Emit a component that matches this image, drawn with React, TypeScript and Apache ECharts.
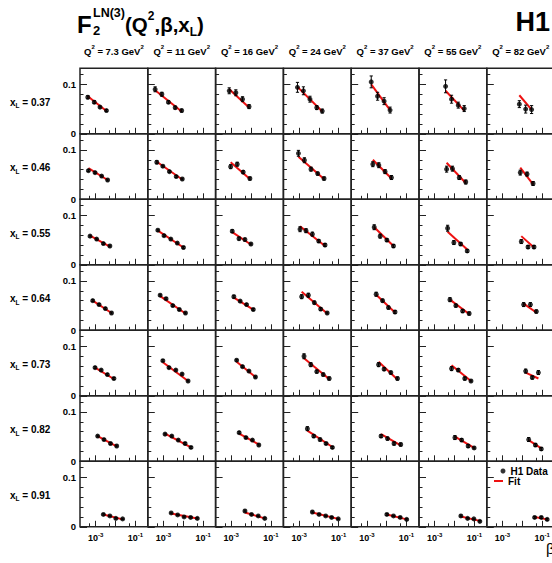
import React, { useEffect, useRef } from 'react';
import * as echarts from 'echarts';

// Bin labels
const Q2_BINS = ['7.3', '11', '16', '24', '37', '55', '82'];
const XL_BINS = ['0.37', '0.46', '0.55', '0.64', '0.73', '0.82', '0.91'];

// Each row is one x_L bin; each inner list is one Q² bin (left to right).
// beta: β of the measured points, f2: F2^LN(3), err: total uncertainty, fit: fit value at first/last β.

// x_L = 0.37
const beta_xl037 = [
  [0.0004, 0.00085, 0.00166, 0.0035],
  [0.00038, 0.00083, 0.00178, 0.0039, 0.0083],
  [0.00079, 0.0017, 0.0037, 0.0079],
  [0.00083, 0.00166, 0.00355, 0.0078, 0.0148],
  [0.00166, 0.00347, 0.0074, 0.0148],
  [0.00355, 0.0071, 0.0155, 0.031],
  [0.0071, 0.0148, 0.0295],
];
const f2_xl037 = [
  [0.074, 0.064, 0.054, 0.047],
  [0.09, 0.08, 0.064, 0.053, 0.047],
  [0.087, 0.083, 0.07, 0.055],
  [0.094, 0.087, 0.07, 0.053, 0.046],
  [0.105, 0.076, 0.066, 0.048],
  [0.096, 0.07, 0.058, 0.051],
  [0.06, 0.05, 0.049],
];
const err_xl037 = [
  [0.003, 0.003, 0.002, 0.002],
  [0.005, 0.004, 0.003, 0.003, 0.003],
  [0.006, 0.006, 0.005, 0.004],
  [0.01, 0.008, 0.006, 0.004, 0.004],
  [0.012, 0.008, 0.007, 0.006],
  [0.013, 0.008, 0.006, 0.006],
  [0.007, 0.008, 0.008],
];
const fit_xl037 = [
  [0.076, 0.046], [0.088, 0.045], [0.09, 0.053], [0.095, 0.045], [0.1, 0.048], [0.087, 0.047], [0.078, 0.049],
];

// x_L = 0.46
const beta_xl046 = [
  [0.00043, 0.00093, 0.002, 0.004],
  [0.00046, 0.00093, 0.002, 0.0044, 0.0089],
  [0.00093, 0.002, 0.004, 0.0087],
  [0.00093, 0.00186, 0.004, 0.0087, 0.0182],
  [0.002, 0.004, 0.0083, 0.0174],
  [0.004, 0.0079, 0.0174, 0.037],
  [0.0079, 0.0174, 0.035],
];
const f2_xl046 = [
  [0.058, 0.054, 0.047, 0.039],
  [0.075, 0.067, 0.056, 0.046, 0.041],
  [0.066, 0.071, 0.055, 0.042],
  [0.093, 0.079, 0.061, 0.052, 0.042],
  [0.071, 0.069, 0.056, 0.044],
  [0.061, 0.062, 0.044, 0.035],
  [0.054, 0.051, 0.032],
];
const err_xl046 = [
  [0.002, 0.002, 0.002, 0.002],
  [0.003, 0.002, 0.002, 0.002, 0.002],
  [0.004, 0.004, 0.003, 0.003],
  [0.006, 0.005, 0.004, 0.003, 0.003],
  [0.005, 0.005, 0.004, 0.004],
  [0.006, 0.005, 0.004, 0.004],
  [0.005, 0.004, 0.004],
];
const fit_xl046 = [
  [0.063, 0.039], [0.076, 0.04], [0.075, 0.041], [0.086, 0.041], [0.08, 0.042], [0.074, 0.033], [0.064, 0.03],
];

// x_L = 0.55
const beta_xl055 = [
  [0.00052, 0.00112, 0.00245, 0.0052],
  [0.00052, 0.00107, 0.00235, 0.005, 0.0102],
  [0.00112, 0.00245, 0.0049, 0.0098],
  [0.00112, 0.00224, 0.0047, 0.0098, 0.0204],
  [0.00235, 0.0047, 0.0102, 0.022],
  [0.0045, 0.0093, 0.0204, 0.044],
  [0.0089, 0.0195, 0.039],
];
const f2_xl055 = [
  [0.058, 0.052, 0.043, 0.038],
  [0.07, 0.059, 0.052, 0.044, 0.035],
  [0.068, 0.053, 0.051, 0.042],
  [0.072, 0.069, 0.062, 0.048, 0.04],
  [0.076, 0.058, 0.05, 0.038],
  [0.074, 0.045, 0.042, 0.028],
  [0.047, 0.036, 0.036],
];
const err_xl055 = [
  [0.002, 0.002, 0.002, 0.002],
  [0.002, 0.002, 0.002, 0.002, 0.002],
  [0.003, 0.003, 0.003, 0.002],
  [0.005, 0.004, 0.004, 0.003, 0.003],
  [0.005, 0.004, 0.003, 0.003],
  [0.006, 0.004, 0.003, 0.003],
  [0.004, 0.003, 0.003],
];
const fit_xl055 = [
  [0.059, 0.037], [0.069, 0.035], [0.066, 0.041], [0.078, 0.038], [0.076, 0.038], [0.067, 0.031], [0.058, 0.035],
];

// x_L = 0.64
const beta_xl064 = [
  [0.00071, 0.00148, 0.0031, 0.0063],
  [0.00068, 0.00135, 0.00295, 0.0063, 0.0129],
  [0.00135, 0.00282, 0.0059, 0.0129],
  [0.00135, 0.00295, 0.0059, 0.0123, 0.0263],
  [0.00295, 0.0062, 0.0123, 0.0263],
  [0.0059, 0.0117, 0.0257, 0.055],
  [0.0117, 0.0257, 0.051],
];
const f2_xl064 = [
  [0.06, 0.052, 0.044, 0.035],
  [0.071, 0.064, 0.05, 0.042, 0.035],
  [0.068, 0.059, 0.052, 0.042],
  [0.068, 0.071, 0.056, 0.043, 0.035],
  [0.073, 0.06, 0.046, 0.037],
  [0.062, 0.05, 0.039, 0.034],
  [0.052, 0.052, 0.038],
];
const err_xl064 = [
  [0.002, 0.002, 0.002, 0.002],
  [0.002, 0.002, 0.002, 0.002, 0.002],
  [0.003, 0.002, 0.002, 0.002],
  [0.004, 0.004, 0.003, 0.003, 0.002],
  [0.004, 0.003, 0.003, 0.003],
  [0.004, 0.003, 0.003, 0.003],
  [0.004, 0.004, 0.003],
];
const fit_xl064 = [
  [0.06, 0.035], [0.069, 0.034], [0.066, 0.042], [0.078, 0.034], [0.072, 0.036], [0.062, 0.033], [0.054, 0.036],
];

// x_L = 0.73
const beta_xl073 = [
  [0.00093, 0.0019, 0.0039, 0.0083],
  [0.00093, 0.0019, 0.0042, 0.0087, 0.0174],
  [0.00186, 0.0037, 0.0078, 0.0166],
  [0.00178, 0.0039, 0.0078, 0.0166, 0.033],
  [0.0039, 0.0074, 0.0162, 0.035],
  [0.0071, 0.0155, 0.033, 0.068],
  [0.0148, 0.032, 0.065],
];
const f2_xl073 = [
  [0.057, 0.052, 0.043, 0.035],
  [0.071, 0.057, 0.052, 0.044, 0.03],
  [0.072, 0.059, 0.05, 0.038],
  [0.08, 0.063, 0.049, 0.043, 0.035],
  [0.063, 0.054, 0.047, 0.035],
  [0.055, 0.052, 0.035, 0.03],
  [0.05, 0.037, 0.047],
];
const err_xl073 = [
  [0.002, 0.002, 0.002, 0.002],
  [0.002, 0.002, 0.002, 0.002, 0.002],
  [0.002, 0.002, 0.002, 0.002],
  [0.005, 0.004, 0.003, 0.003, 0.003],
  [0.004, 0.003, 0.003, 0.003],
  [0.004, 0.003, 0.003, 0.002],
  [0.004, 0.003, 0.004],
];
const fit_xl073 = [
  [0.057, 0.034], [0.068, 0.03], [0.069, 0.038], [0.076, 0.034], [0.069, 0.033], [0.062, 0.03], [0.047, 0.035],
];

// x_L = 0.82
const beta_xl082 = [
  [0.00126, 0.00263, 0.0056, 0.0115],
  [0.0012, 0.00263, 0.0056, 0.0123, 0.0245],
  [0.0025, 0.0055, 0.0117, 0.0245],
  [0.00263, 0.0055, 0.0115, 0.023, 0.048],
  [0.0052, 0.011, 0.0235, 0.051],
  [0.0105, 0.023, 0.049, 0.098],
  [0.021, 0.046, 0.091],
];
const f2_xl082 = [
  [0.051, 0.044, 0.036, 0.031],
  [0.055, 0.051, 0.043, 0.036, 0.028],
  [0.058, 0.048, 0.043, 0.033],
  [0.066, 0.051, 0.044, 0.036, 0.028],
  [0.051, 0.046, 0.036, 0.034],
  [0.048, 0.043, 0.031, 0.027],
  [0.044, 0.033, 0.025],
];
const err_xl082 = [
  [0.002, 0.002, 0.002, 0.002],
  [0.002, 0.002, 0.002, 0.002, 0.002],
  [0.002, 0.002, 0.002, 0.002],
  [0.004, 0.003, 0.003, 0.002, 0.002],
  [0.003, 0.003, 0.003, 0.003],
  [0.004, 0.003, 0.003, 0.002],
  [0.004, 0.003, 0.003],
];
const fit_xl082 = [
  [0.051, 0.03], [0.056, 0.028], [0.056, 0.034], [0.062, 0.029], [0.055, 0.032], [0.05, 0.027], [0.043, 0.026],
];

// x_L = 0.91
const beta_xl091 = [
  [0.00245, 0.0052, 0.0105, 0.023],
  [0.00245, 0.0052, 0.011, 0.0235, 0.051],
  [0.0049, 0.0105, 0.023, 0.049],
  [0.0047, 0.0102, 0.022, 0.044, 0.095],
  [0.0102, 0.022, 0.048, 0.102],
  [0.021, 0.046, 0.095, 0.19],
  [0.042, 0.091, 0.18],
];
const f2_xl091 = [
  [0.025, 0.022, 0.017, 0.016],
  [0.028, 0.024, 0.02, 0.019, 0.017],
  [0.032, 0.025, 0.022, 0.017],
  [0.03, 0.025, 0.022, 0.019, 0.016],
  [0.025, 0.022, 0.019, 0.015],
  [0.022, 0.017, 0.016, 0.011],
  [0.019, 0.019, 0.015],
];
const err_xl091 = [
  [0.0015, 0.0015, 0.0015, 0.0015],
  [0.0015, 0.0015, 0.0015, 0.0015, 0.0015],
  [0.002, 0.0015, 0.0015, 0.0015],
  [0.002, 0.0015, 0.0015, 0.0015, 0.0015],
  [0.002, 0.0015, 0.0015, 0.0015],
  [0.002, 0.0015, 0.0015, 0.0015],
  [0.002, 0.002, 0.002],
];
const fit_xl091 = [
  [0.025, 0.015], [0.027, 0.017], [0.029, 0.017], [0.029, 0.016], [0.025, 0.015], [0.021, 0.012], [0.02, 0.015],
];

// Axis ticks (β is drawn on a log10 scale)
const X_MAJOR_TICKS = [0.001, 0.01, 0.1];
const X_MINOR_TICKS = [0.0005, 0.005, 0.05];
const X_TICK_LABELS = [0.001, 0.1];
const Y_MAJOR_TICKS = [0, 0.1];
const Y_MINOR_TICKS = [0.02, 0.04, 0.06, 0.08, 0.12];
const BETA_MIN = 1.62e-4;
const BETA_MAX = 0.427;
const F2_MAX = 0.1325;

const ROWS = [
  { beta: beta_xl037, f2: f2_xl037, err: err_xl037, fit: fit_xl037 },
  { beta: beta_xl046, f2: f2_xl046, err: err_xl046, fit: fit_xl046 },
  { beta: beta_xl055, f2: f2_xl055, err: err_xl055, fit: fit_xl055 },
  { beta: beta_xl064, f2: f2_xl064, err: err_xl064, fit: fit_xl064 },
  { beta: beta_xl073, f2: f2_xl073, err: err_xl073, fit: fit_xl073 },
  { beta: beta_xl082, f2: f2_xl082, err: err_xl082, fit: fit_xl082 },
  { beta: beta_xl091, f2: f2_xl091, err: err_xl091, fit: fit_xl091 },
];

// Panel layout
const LEFT0 = 80;
const COL_W = 67.8;
const TOP0 = 68.3;
const ROW_H = 65.5;
const FONT = '"Liberation Sans", Arial, Helvetica, sans-serif';
const INK = '#000';
const FRAME = '#222';
const FIT_RED = '#ee1111';

const lg = (v: number) => Math.log10(v);

function errorBars(params: any, api: any) {
  const x = api.value(0);
  const a = api.coord([x, api.value(1)]);
  const b = api.coord([x, api.value(2)]);
  const cap = 1.6;
  const style = { stroke: INK, lineWidth: 1 };
  return {
    type: 'group',
    children: [
      { type: 'line', shape: { x1: a[0], y1: a[1], x2: b[0], y2: b[1] }, style },
      { type: 'line', shape: { x1: a[0] - cap, y1: a[1], x2: a[0] + cap, y2: a[1] }, style },
      { type: 'line', shape: { x1: b[0] - cap, y1: b[1], x2: b[0] + cap, y2: b[1] }, style },
    ],
  };
}

function buildOption() {
  const grid: any[] = [];
  const xAxis: any[] = [];
  const yAxis: any[] = [];
  const series: any[] = [];

  const tickStyle = { color: FRAME, width: 1 };
  const noLine = { show: false, onZero: false };

  ROWS.forEach((row, r) => {
    for (let c = 0; c < Q2_BINS.length; c++) {
      const g = grid.length;
      grid.push({
        left: LEFT0 + c * COL_W,
        top: TOP0 + r * ROW_H,
        width: COL_W,
        height: ROW_H,
        show: true,
        borderColor: FRAME,
        borderWidth: 1.5,
        backgroundColor: 'rgba(0,0,0,0)',
        containLabel: false,
        outerBoundsMode: 'none',
      });
      const lastRow = r === ROWS.length - 1;
      const firstCol = c === 0;
      const xBase = {
        gridIndex: g,
        type: 'value',
        position: 'bottom',
        min: lg(BETA_MIN),
        max: lg(BETA_MAX),
        axisLine: noLine,
        splitLine: { show: false },
      };
      xAxis.push({
        ...xBase,
        axisTick: { show: true, inside: true, length: 6, customValues: X_MAJOR_TICKS.map(lg), lineStyle: tickStyle },
        axisLabel: {
          show: lastRow,
          customValues: X_TICK_LABELS.map(lg),
          margin: 5,
          formatter: (v: number) => `{b|10}{s|${Math.round(v)}}`,
          rich: {
            b: { fontSize: 9, fontWeight: 'bold', fontFamily: FONT, color: INK, lineHeight: 11, verticalAlign: 'bottom' },
            s: { fontSize: 6, fontWeight: 'bold', fontFamily: FONT, color: INK, lineHeight: 7, verticalAlign: 'top' },
          },
        },
      });
      xAxis.push({
        ...xBase,
        axisTick: { show: true, inside: true, length: 3.5, customValues: X_MINOR_TICKS.map(lg), lineStyle: tickStyle },
        axisLabel: { show: false },
      });
      const yBase = {
        gridIndex: g,
        type: 'value',
        position: 'left',
        min: 0,
        max: F2_MAX,
        axisLine: noLine,
        splitLine: { show: false },
      };
      yAxis.push({
        ...yBase,
        axisTick: { show: true, inside: true, length: 7, customValues: Y_MAJOR_TICKS, lineStyle: tickStyle },
        axisLabel: {
          show: firstCol,
          customValues: Y_MAJOR_TICKS,
          margin: 4,
          fontSize: 9.5,
          fontWeight: 'bold',
          fontFamily: FONT,
          color: INK,
        },
      });
      yAxis.push({
        ...yBase,
        axisTick: { show: true, inside: true, length: 3.5, customValues: Y_MINOR_TICKS, lineStyle: tickStyle },
        axisLabel: { show: false },
      });

      const betas = row.beta[c];
      const vals = row.f2[c];
      const errs = row.err[c];
      const fit = row.fit[c];
      const axisRef = { xAxisIndex: 2 * g, yAxisIndex: 2 * g };

      series.push({
        type: 'line',
        name: 'Fit',
        ...axisRef,
        data: [
          [lg(betas[0]), fit[0]],
          [lg(betas[betas.length - 1]), fit[1]],
        ],
        symbol: 'none',
        lineStyle: { color: FIT_RED, width: 2 },
        itemStyle: { color: FIT_RED },
        z: 3,
        silent: true,
      });
      series.push({
        type: 'custom',
        ...axisRef,
        data: betas.map((b, i) => [lg(b), vals[i] - errs[i], vals[i] + errs[i]]),
        encode: { x: 0, y: [1, 2] },
        renderItem: errorBars,
        z: 4,
        silent: true,
      });
      series.push({
        type: 'scatter',
        name: 'H1 Data',
        ...axisRef,
        data: betas.map((b, i) => [lg(b), vals[i]]),
        symbol: 'circle',
        symbolSize: 5,
        itemStyle: { color: INK },
        z: 5,
        silent: true,
      });
    }
  });

  const txt = (x: number, y: number, text: string, size: number, extra: any = {}) => ({
    type: 'text',
    x,
    y,
    silent: true,
    style: {
      text,
      fill: INK,
      fontSize: size,
      fontWeight: 'bold',
      fontFamily: FONT,
      textAlign: 'left',
      textVerticalAlign: 'middle',
      ...extra,
    },
  });

  const graphic: any[] = [
    // F2^LN(3)(Q²,β,x_L)
    txt(77, 24, 'F', 24),
    txt(93, 13, 'LN(3)', 12.5),
    txt(93, 30, '2', 13),
    {
      type: 'text',
      x: 125,
      y: 10,
      silent: true,
      style: {
        text: '{b|(Q}{p|2}{b|,β,x}{d|L}{b|)}',
        textAlign: 'left',
        textVerticalAlign: 'top',
        rich: {
          b: { fontSize: 20.5, fontWeight: 'bold', fontFamily: FONT, fill: INK, lineHeight: 28, verticalAlign: 'middle' },
          p: { fontSize: 12, fontWeight: 'bold', fontFamily: FONT, fill: INK, lineHeight: 13, verticalAlign: 'top' },
          d: { fontSize: 12, fontWeight: 'bold', fontFamily: FONT, fill: INK, lineHeight: 12, verticalAlign: 'bottom' },
        },
      },
    },
    txt(550, 22, 'H1', 27, { textAlign: 'right' }),
    txt(546, 548, 'β', 15, { fontWeight: 'normal' }),
  ];

  Q2_BINS.forEach((q, c) => {
    graphic.push({
      type: 'text',
      x: LEFT0 + c * COL_W + COL_W / 2,
      y: 50,
      silent: true,
      style: {
        text: `{b|Q}{s|2}{b| = ${q} GeV}{s|2}`,
        textAlign: 'center',
        textVerticalAlign: 'middle',
        rich: {
          b: { fontSize: 9.5, fontWeight: 'bold', fontFamily: FONT, fill: INK, lineHeight: 12, verticalAlign: 'bottom' },
          s: { fontSize: 6, fontWeight: 'bold', fontFamily: FONT, fill: INK, lineHeight: 7, verticalAlign: 'top' },
        },
      },
    });
  });

  XL_BINS.forEach((xl, r) => {
    graphic.push({
      type: 'text',
      x: 10,
      y: TOP0 + r * ROW_H + ROW_H / 2 + 2,
      silent: true,
      style: {
        text: `{b|x}{u|L}{b| = ${xl}}`,
        textAlign: 'left',
        textVerticalAlign: 'middle',
        rich: {
          b: { fontSize: 10, fontWeight: 'bold', fontFamily: FONT, fill: INK, lineHeight: 12, verticalAlign: 'top' },
          u: { fontSize: 6.5, fontWeight: 'bold', fontFamily: FONT, fill: INK, lineHeight: 8, verticalAlign: 'bottom' },
        },
      },
    });
  });

  const legendText = { fontSize: 10, fontFamily: FONT, color: INK, fontWeight: 'bold' };

  return {
    animation: false,
    backgroundColor: '#fff',
    grid,
    xAxis,
    yAxis,
    series,
    graphic,
    legend: [
      {
        data: [{ name: 'H1 Data', icon: 'circle' }],
        left: 500.5,
        top: 466,
        orient: 'vertical',
        itemWidth: 5,
        itemHeight: 5,
        padding: 0,
        selectedMode: false,
        textStyle: legendText,
      },
      {
        data: [{ name: 'Fit', icon: 'rect', itemStyle: { color: FIT_RED } }],
        left: 494,
        top: 476,
        orient: 'vertical',
        itemWidth: 9,
        itemHeight: 2,
        padding: 0,
        selectedMode: false,
        textStyle: legendText,
      },
    ],
  };
}

export default function App() {
  const ref = useRef<HTMLDivElement>(null);
  useEffect(() => {
    if (!ref.current) return;
    const chart = echarts.init(ref.current, null, { renderer: 'svg', width: 552, height: 563 });
    chart.setOption(buildOption() as any);
    return () => chart.dispose();
  }, []);
  return (
    <div
      ref={ref}
      style={{ position: 'fixed', left: 0, top: 0, width: 552, height: 563, background: '#fff' }}
    />
  );
}
